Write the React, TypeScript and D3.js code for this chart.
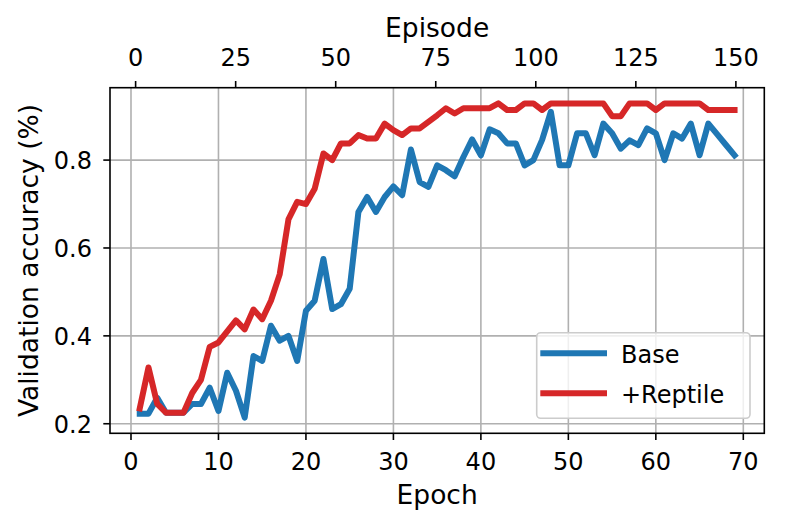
import React from "react";
import * as d3 from "d3";

const epochs = d3.range(1, 70);
const baseValues = [
  0.223, 0.223, 0.259, 0.225, 0.225, 0.225, 0.245, 0.245, 0.282, 0.229,
  0.316, 0.275, 0.214, 0.354, 0.343, 0.423, 0.389, 0.400, 0.343, 0.457,
  0.480, 0.575, 0.461, 0.472, 0.507, 0.682, 0.716, 0.682, 0.716, 0.740,
  0.720, 0.824, 0.750, 0.739, 0.788, 0.777, 0.763, 0.807, 0.847, 0.811,
  0.870, 0.861, 0.838, 0.838, 0.788, 0.800, 0.846, 0.910, 0.788, 0.788,
  0.861, 0.861, 0.811, 0.883, 0.861, 0.826, 0.845, 0.834, 0.872, 0.861,
  0.800, 0.861, 0.849, 0.883, 0.811, 0.883, 0.859, 0.835, 0.811,
];
const reptileValues = [
  0.235, 0.328, 0.245, 0.225, 0.225, 0.225, 0.270, 0.300, 0.375, 0.385,
  0.410, 0.435, 0.415, 0.460, 0.438, 0.480, 0.540, 0.665, 0.705, 0.700,
  0.735, 0.815, 0.800, 0.838, 0.838, 0.857, 0.849, 0.849, 0.883, 0.868,
  0.857, 0.872, 0.872, 0.887, 0.902, 0.918, 0.906, 0.918, 0.918, 0.918,
  0.918, 0.929, 0.914, 0.914, 0.929, 0.929, 0.914, 0.929, 0.929, 0.929,
  0.929, 0.929, 0.929, 0.929, 0.900, 0.900, 0.929, 0.929, 0.929, 0.914,
  0.929, 0.929, 0.929, 0.929, 0.929, 0.914, 0.914, 0.914, 0.914,
];
const seriesNames = ["Base", "+Reptile"];
const seriesColors = ["#1f77b4", "#d62728"];
const epochTicks = [0, 10, 20, 30, 40, 50, 60, 70];
const episodeTicks = [0, 25, 50, 75, 100, 125, 150];
const episodeDomain = [-6.4, 157.1];
const yTicks = [0.2, 0.4, 0.6, 0.8];

const W = 789;
const H = 527;
const M = { left: 110, right: 764.3, top: 87.7, bottom: 433.3 };
const FONT = "DejaVu Sans";

export default function App() {
  const xDom = d3.extent(epochs) as [number, number];
  const xPad = (xDom[1] - xDom[0]) * 0.05;
  const x = d3.scaleLinear().domain([xDom[0] - xPad, xDom[1] + xPad]).range([M.left, M.right]);
  const all = baseValues.concat(reptileValues);
  const yDom = d3.extent(all) as [number, number];
  const yPad = (yDom[1] - yDom[0]) * 0.05;
  const y = d3.scaleLinear().domain([yDom[0] - yPad, yDom[1] + yPad]).range([M.bottom, M.top]);
  const xTop = d3.scaleLinear().domain(episodeDomain).range([M.left, M.right]);

  const line = d3
    .line<number>()
    .x((_, i) => x(epochs[i]))
    .y((d) => y(d));

  const series = [baseValues, reptileValues];
  const tickLen = 6.7;
  const tickFont = 24;
  const labelFont = 26.5;

  return (
    <svg width={W} height={H} style={{ position: "absolute", left: 0, top: 0 }} fontFamily={FONT}>
      <rect x={0} y={0} width={W} height={H} fill="#fff" />
      {/* grid */}
      <g stroke="#b0b0b0" strokeWidth={1.6}>
        {epochTicks.map((t) => (
          <line key={"gx" + t} x1={x(t)} x2={x(t)} y1={M.top} y2={M.bottom} />
        ))}
        {yTicks.map((t) => (
          <line key={"gy" + t} x1={M.left} x2={M.right} y1={y(t)} y2={y(t)} />
        ))}
      </g>
      {/* series */}
      {series.map((s, i) => (
        <path
          key={seriesNames[i]}
          d={line(s) || ""}
          fill="none"
          stroke={seriesColors[i]}
          strokeWidth={6}
          strokeLinejoin="round"
          strokeLinecap="square"
        />
      ))}
      {/* frame */}
      <rect
        x={M.left}
        y={M.top}
        width={M.right - M.left}
        height={M.bottom - M.top}
        fill="none"
        stroke="#000"
        strokeWidth={1.6}
      />
      {/* bottom axis */}
      {epochTicks.map((t) => (
        <g key={"bt" + t}>
          <line x1={x(t)} x2={x(t)} y1={M.bottom} y2={M.bottom + tickLen} stroke="#000" strokeWidth={1.6} />
          <text x={x(t)} y={469.5} fontSize={tickFont} textAnchor="middle" fill="#000">
            {t}
          </text>
        </g>
      ))}
      <text x={(M.left + M.right) / 2} y={504.3} fontSize={labelFont} textAnchor="middle" fill="#000">
        Epoch
      </text>
      {/* top axis */}
      {episodeTicks.map((t) => (
        <g key={"tt" + t}>
          <line x1={xTop(t)} x2={xTop(t)} y1={M.top} y2={M.top - tickLen} stroke="#000" strokeWidth={1.6} />
          <text x={xTop(t)} y={66} fontSize={tickFont} textAnchor="middle" fill="#000">
            {t}
          </text>
        </g>
      ))}
      <text x={(M.left + M.right) / 2} y={37} fontSize={labelFont} textAnchor="middle" fill="#000">
        Episode
      </text>
      {/* left axis */}
      {yTicks.map((t) => (
        <g key={"lt" + t}>
          <line x1={M.left} x2={M.left - tickLen} y1={y(t)} y2={y(t)} stroke="#000" strokeWidth={1.6} />
          <text x={92} y={y(t) + 8.8} fontSize={tickFont} textAnchor="end" fill="#000">
            {t.toFixed(1)}
          </text>
        </g>
      ))}
      <text
        transform={`translate(38.3, ${(M.top + M.bottom) / 2}) rotate(-90)`}
        fontSize={labelFont}
        textAnchor="middle"
        fill="#000"
      >
        Validation accuracy (%)
      </text>
      {/* legend */}
      <rect
        x={536.7}
        y={332.7}
        width={750 - 536.7}
        height={418.3 - 332.7}
        rx={4}
        fill="#fff"
        fillOpacity={0.8}
        stroke="#cccccc"
        strokeWidth={1.6}
      />
      {seriesNames.map((n, i) => (
        <g key={"lg" + n}>
          <line
            x1={543.3}
            x2={604}
            y1={353.3 + i * 40}
            y2={353.3 + i * 40}
            stroke={seriesColors[i]}
            strokeWidth={6}
            strokeLinecap="square"
          />
          <text x={621} y={362.5 + i * 40} fontSize={tickFont} fill="#000">
            {n}
          </text>
        </g>
      ))}
    </svg>
  );
}
